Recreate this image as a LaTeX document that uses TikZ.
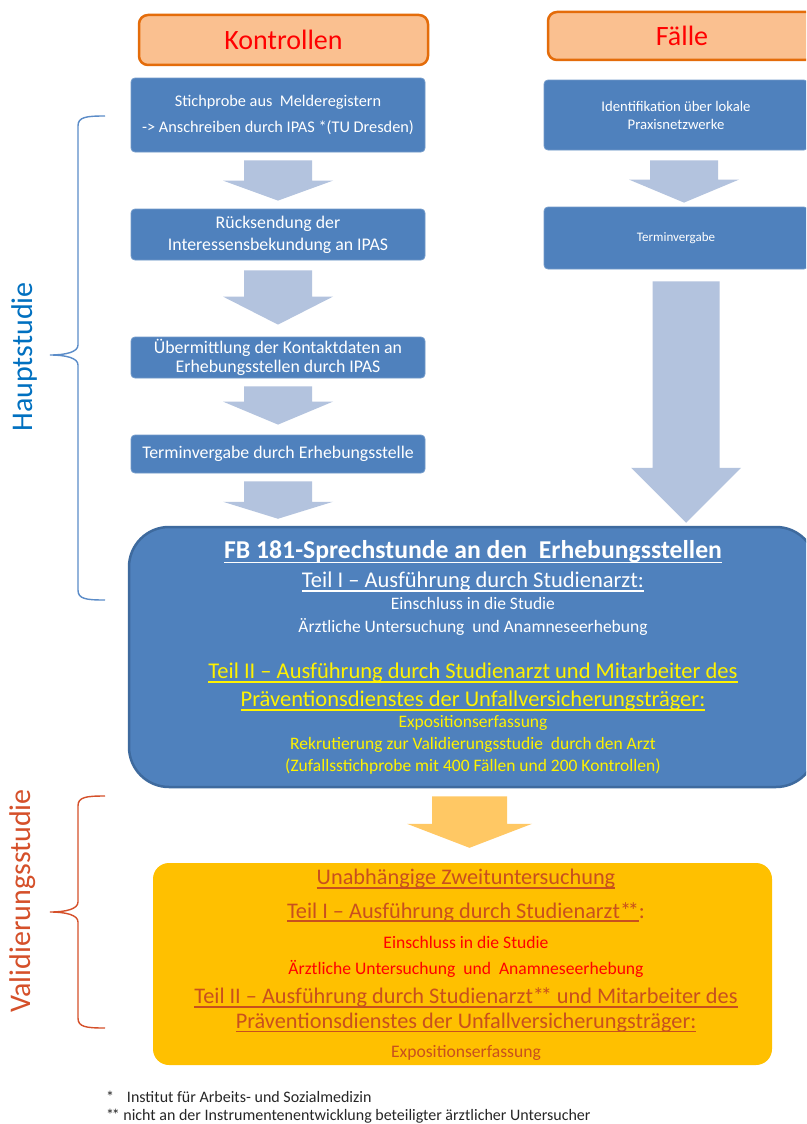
\documentclass[tikz,border=0pt]{standalone}
\usepackage{fontspec}
\setmainfont{Carlito}
\usetikzlibrary{calc}

\definecolor{boxblue}{HTML}{4F81BD}
\definecolor{boxedge}{HTML}{3E6A9E}
\definecolor{arrblue}{HTML}{B3C3DE}
\definecolor{hdrfill}{HTML}{FAC090}
\definecolor{hdrline}{HTML}{E46C0A}
\definecolor{hauptblue}{HTML}{0070C0}
\definecolor{braceblue}{HTML}{5B8CC8}
\definecolor{valred}{HTML}{D5502A}
\definecolor{goldfill}{HTML}{FFC000}
\definecolor{goldarr}{HTML}{FFC864}
\definecolor{rusttext}{HTML}{C8501E}
\definecolor{notegrey}{HTML}{262626}

% font size and line distance in one go
\newcommand\fsz[2]{\fontsize{#1}{#2}\selectfont}
% underline whose thickness follows the font size
\newsavebox\ulbox
\newcommand\ulin[1]{\sbox\ulbox{#1}\rlap{\rule[-0.17em]{\wd\ulbox}{0.065em}}\usebox\ulbox}
% tight double asterisk
\newcommand\dstar{*\kern-0.15em*}

% block arrow from the bottom of one node to the top of another:
% #1 from, #2 to, #3 gap at top, #4 gap at tip, #5 head length,
% #6 half shaft width, #7 half head width, #8 fill colour, #9 sideways shift
\newcommand\barrow[9]{%
  \fill[#8] let \p1=(#1.south), \p2=(#2.north), \n1={\x1+#9pt} in
    (\n1-#6pt,\y1-#3pt) -- (\n1+#6pt,\y1-#3pt) -- (\n1+#6pt,\y2+#4pt+#5pt)
    -- (\n1+#7pt,\y2+#4pt+#5pt) -- (\n1,\y2+#4pt) -- (\n1-#7pt,\y2+#4pt+#5pt)
    -- (\n1-#6pt,\y2+#4pt+#5pt) -- cycle;}

\tikzset{
  hdr/.style={draw=hdrline, line width=2.5pt, fill=hdrfill, rounded corners=9pt,
    text=red, font=\fsz{28}{32}, inner sep=0pt},
  stepbox/.style={fill=boxblue, draw=boxblue!80!white, line width=0.8pt,
    rounded corners=4pt, text=white, align=center, inner sep=0pt},
  bigbox/.style={fill=boxblue, draw=boxedge, line width=2.5pt, rounded corners=40pt,
    inner sep=0pt},
  goldbox/.style={fill=goldfill, draw=none, rounded corners=16pt, inner sep=0pt},
  lbl/.style={inner sep=0pt, align=center},
  brace/.style={line width=1.4pt},
}

\begin{document}
\begin{tikzpicture}[x=1pt, y=-1pt]
\clip (0,0) rectangle (806,1124);
\fill[white] (0,0) rectangle (806,1124);

% column headers
\node[hdr, minimum width=289pt, minimum height=50pt] (hK) at (283.5,40) {Kontrollen};
\node[hdr, minimum width=268pt, minimum height=48pt] (hF) at (682,36) {Fälle};

% control path
\node[stepbox, minimum width=294pt, minimum height=74pt, font=\fsz{16.3}{26}] (k1) at (278,115)
  {Stichprobe aus~ Melderegistern\\-> Anschreiben durch IPAS *(TU Dresden)};
\node[stepbox, minimum width=294pt, minimum height=51pt, font=\fsz{17.8}{22}] (k2) at (278,234.5)
  {Rücksendung der\\Interessensbekundung an IPAS};
\node[stepbox, minimum width=294pt, minimum height=41pt, font=\fsz{17.8}{19}] (k3) at (278,357.5)
  {Übermittlung der Kontaktdaten an\\Erhebungsstellen durch IPAS};
\node[stepbox, minimum width=294pt, minimum height=38pt, font=\fsz{17.8}{19}] (k4) at (278,454)
  {Terminvergabe durch Erhebungsstelle};

% case path
\node[stepbox, minimum width=264pt, minimum height=70pt, font=\fsz{14.7}{18}] (f1) at (676,115)
  {Identifikation über lokale\\Praxisnetzwerke};
\node[stepbox, minimum width=264pt, minimum height=62pt, font=\fsz{13}{18}] (f2) at (676,238)
  {Terminvergabe};

% consultation at the survey sites
\node[bigbox, minimum width=687pt, minimum height=260pt] (main) at (472.5,657) {};
\node[lbl, text=white, font=\bfseries\fsz{25.7}{30}] (m0) at (473,552)
  {\ulin{FB 181-Sprechstunde an den~ Erhebungsstellen}};
\node[lbl, text=white, font=\fsz{22.5}{26}] (m1) at (473,582)
  {\ulin{Teil I – Ausführung durch Studienarzt:}};
\node[lbl, text=white, font=\fsz{17.5}{23}] (m2) at (473,616.5)
  {Einschluss in die Studie\\Ärztliche Untersuchung~ und Anamneseerhebung};
\node[lbl, text=yellow, font=\fsz{22.5}{28}] (m3) at (473,687)
  {\ulin{Teil II – Ausführung durch Studienarzt und Mitarbeiter des}\\
   \ulin{Präventionsdienstes der Unfallversicherungsträger:}};
\node[lbl, text=yellow, font=\fsz{17.5}{22}] (m4) at (473,745)
  {Expositionserfassung\\Rekrutierung zur Validierungsstudie~ durch den Arzt\\
   (Zufallsstichprobe mit 400 Fällen und 200 Kontrollen)};

% independent second examination
\node[goldbox, minimum width=619pt, minimum height=202pt] (val) at (462.5,964) {};
\node[lbl, text=rusttext, font=\fsz{22.3}{26}] (v0) at (466,879)
  {\ulin{Unabhängige Zweituntersuchung}};
\node[lbl, text=rusttext, font=\fsz{22.3}{26}] (v1) at (466,912)
  {\ulin{Teil I – Ausführung durch Studienarzt\dstar}:};
\node[lbl, text=red, font=\fsz{17.6}{20}] (v2) at (466,942) {Einschluss in die Studie};
\node[lbl, text=red, font=\fsz{17.6}{20}] (v3) at (466,969)
  {Ärztliche Untersuchung~ und~ Anamneseerhebung};
\node[lbl, text=rusttext, font=\fsz{22.3}{24.5}] (v4) at (466,1010)
  {\ulin{Teil II – Ausführung durch Studienarzt\dstar{} und Mitarbeiter des}\\
   \ulin{Präventionsdienstes der Unfallversicherungsträger:}};
\node[lbl, text=rusttext, font=\fsz{17.6}{20}] (v5) at (466,1053) {Expositionserfassung};

% block arrows
\barrow{k1}{k2}{8}{8}{20}{34}{55}{arrblue}{0}
\barrow{k2}{k3}{10}{12}{28}{34}{55}{arrblue}{0}
\barrow{k3}{k4}{8}{10}{23}{34}{55}{arrblue}{0}
\barrow{k4}{main}{8}{7}{17}{34}{55}{arrblue}{0}
\barrow{f1}{f2}{10}{4}{23}{34}{55}{arrblue}{8}
\barrow{f2}{main}{12}{3}{55}{33.5}{55}{arrblue}{10}
\barrow{main}{val}{8}{15}{24}{37.5}{62.5}{goldarr}{-3}

% study phase braces
\coordinate (hTop) at (105,116);
\coordinate (hTip) at (50,355);
\coordinate (hBot) at (105,600);
\draw[brace, braceblue] (hTop) .. controls (86,116) and (78,117) .. (78,126) -- (78,345)
  .. controls (78,352) and (66,355) .. (hTip)
  .. controls (66,355) and (78,358) .. (78,365) -- (78,590)
  .. controls (78,599) and (86,600) .. (hBot);
\node[lbl, text=hauptblue, font=\fsz{30}{34}, rotate=90] (haupt) at (25,357) {Hauptstudie};

\coordinate (vTop) at (105,796);
\coordinate (vTip) at (50,912);
\coordinate (vBot) at (105,1028);
\draw[brace, valred] (vTop) .. controls (86,796) and (78,797) .. (78,806) -- (78,902)
  .. controls (78,909) and (66,912) .. (vTip)
  .. controls (66,912) and (78,915) .. (78,922) -- (78,1018)
  .. controls (78,1027) and (86,1028) .. (vBot);
\node[lbl, text=valred, font=\fsz{30}{34}, rotate=90] (validl) at (23,901) {Validierungsstudie};

% footnotes
\node[lbl, anchor=west, text=notegrey, font=\fsz{16}{18}] (n1) at (106,1097)
  {*\hspace{0.8em}Institut für Arbeits- und Sozialmedizin};
\node[lbl, anchor=west, text=notegrey, font=\fsz{16}{18}] (n2) at (106,1116)
  {\dstar{} nicht an der Instrumentenentwicklung beteiligter ärztlicher Untersucher};
\end{tikzpicture}
\end{document}
